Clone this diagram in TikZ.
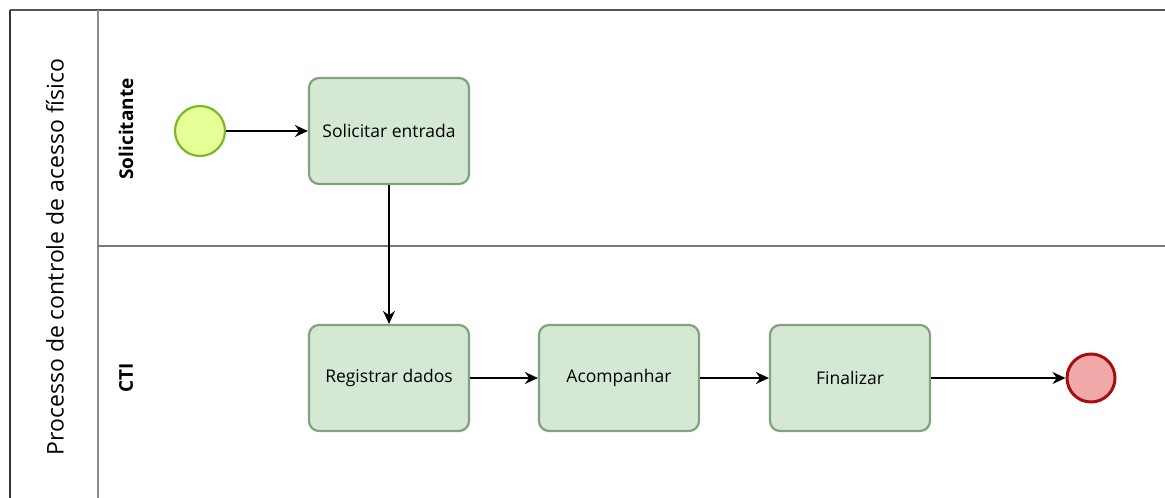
\documentclass[tikz,border=0pt]{standalone}
\usepackage{fontspec}
\setmainfont{Open Sans}
\usetikzlibrary{arrows.meta}
\definecolor{taskfill}{HTML}{D5E8D4}
\definecolor{taskline}{HTML}{82A27E}
\definecolor{startfill}{HTML}{E6FF97}
\definecolor{startline}{HTML}{7AB82A}
\definecolor{endfill}{HTML}{F0A8A8}
\definecolor{endline}{HTML}{A50F0F}
\definecolor{poolline}{HTML}{555555}
\definecolor{divline}{HTML}{8A8A8A}
\begin{document}
\begin{tikzpicture}[x=1pt,y=-1pt,
  task/.style={draw=taskline,fill=taskfill,line width=2.2pt,rounded corners=10pt,
    minimum width=160pt,minimum height=106pt,inner sep=0pt,font=\fontsize{17.5}{20}\selectfont},
  startev/.style={circle,draw=startline,fill=startfill,line width=2.2pt,minimum size=50pt,inner sep=0pt},
  endev/.style={circle,draw=endline,fill=endfill,line width=3pt,minimum size=48pt,inner sep=0pt},
  flow/.style={-{Stealth[length=13pt,width=12pt]},line width=1.5pt,black},
  lanelabel/.style={rotate=90,font=\bfseries\fontsize{19}{22}\selectfont},
  poollabel/.style={rotate=90,font=\fontsize{23}{26}\selectfont}]
\useasboundingbox (0,0) rectangle (1165,498);
% pool
\draw[poolline,line width=1.5pt] (10,10) -- (1165,10);
\draw[black!80,line width=1.5pt] (10,10) -- (10,498);
\draw[divline,line width=2pt] (98,10) -- (98,498);
\draw[poolline!80,line width=1.5pt] (98,246) -- (1165,246);
\node[poollabel] (pool) at (55,257) {Processo de controle de acesso físico};
\node[lanelabel] (l1) at (126,129) {Solicitante};
\node[lanelabel] (l2) at (126,378) {CTI};
% events and tasks
\node[startev] (s) at (200,131) {};
\node[task] (t1) at (389,131) {Solicitar entrada};
\node[task] (t2) at (389,378) {Registrar dados};
\node[task] (t3) at (619,378) {Acompanhar};
\node[task] (t4) at (850,378) {Finalizar};
\node[endev] (e) at (1091,378) {};
% flows
\draw[flow] (s) -- (t1);
\draw[flow] (t1) -- (t2);
\draw[flow] (t2) -- (t3);
\draw[flow] (t3) -- (t4);
\draw[flow] (t4) -- (e);
\end{tikzpicture}
\end{document}
